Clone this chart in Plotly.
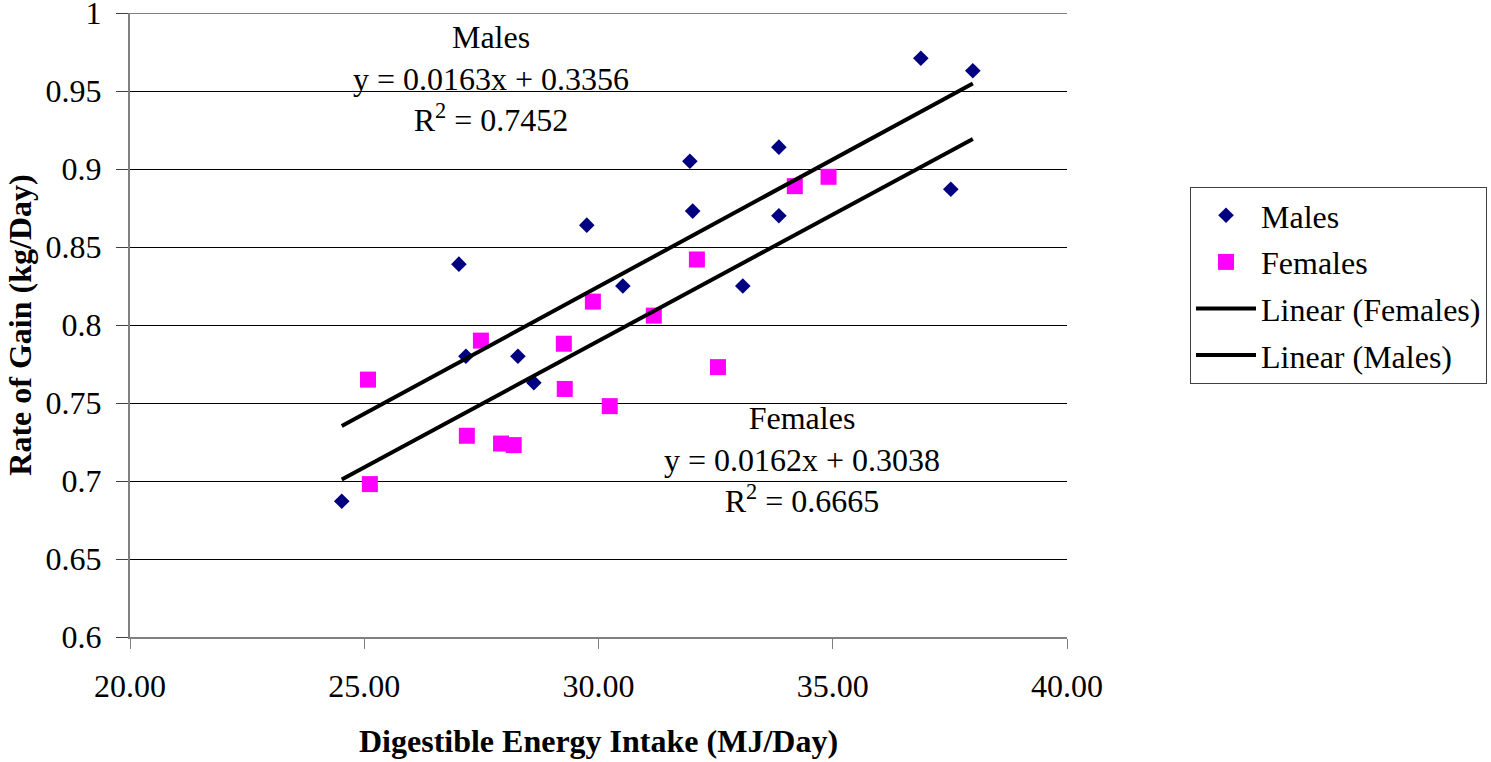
import plotly.graph_objects as go

# Digestible energy intake (MJ/day) and rate of gain (kg/day)
males_x = [24.52, 27.02, 27.17, 28.28, 28.62, 29.75, 30.52, 31.95, 32.01, 33.08,
           33.85, 33.85, 36.88, 37.52, 37.99]
males_y = [0.687, 0.839, 0.780, 0.780, 0.763, 0.864, 0.825, 0.905, 0.873, 0.825,
           0.914, 0.870, 0.971, 0.887, 0.963]

females_x = [25.08, 25.12, 27.19, 27.49, 27.92, 28.19, 29.26, 29.28, 29.88, 30.24,
             31.18, 32.10, 32.55, 34.19, 34.91]
females_y = [0.765, 0.698, 0.729, 0.790, 0.724, 0.723, 0.788, 0.759, 0.815, 0.748,
             0.806, 0.842, 0.773, 0.889, 0.895]

# Fitted regression coefficients (slope, intercept, R^2)
males_fit = (0.0163, 0.3356, 0.7452)
females_fit = (0.0162, 0.3038, 0.6665)

x_ticks = [20, 25, 30, 35, 40]
y_ticks = [0.6, 0.65, 0.7, 0.75, 0.8, 0.85, 0.9, 0.95, 1.0]
y_tick_text = ["0.6", "0.65", "0.7", "0.75", "0.8", "0.85", "0.9", "0.95", "1"]

FONT = "Liberation Serif"
FS = 32

# trend lines span the range of the data
x_lo = min(males_x + females_x)
x_hi = max(males_x + females_x)
line_x = [x_lo, x_hi]
males_line = [males_fit[0] * v + males_fit[1] for v in line_x]
females_line = [females_fit[0] * v + females_fit[1] for v in line_x]

fig = go.Figure()
fig.add_trace(go.Scatter(x=males_x, y=males_y, mode="markers", name="Males",
                         legendgroup="m",
                         marker=dict(symbol="diamond", size=12, color="#000080",
                                     line=dict(width=0))))
fig.add_trace(go.Scatter(x=females_x, y=females_y, mode="markers", name="Females",
                         legendgroup="f",
                         marker=dict(symbol="square", size=16, color="#FF00FF",
                                     line=dict(width=0))))
fig.add_trace(go.Scatter(x=line_x, y=females_line, mode="lines", name="Linear (Females)",
                         legendgroup="lf",
                         line=dict(color="black", width=4)))
fig.add_trace(go.Scatter(x=line_x, y=males_line, mode="lines", name="Linear (Males)",
                         legendgroup="lm",
                         line=dict(color="black", width=4)))


def eq_text(label, fit):
    return (f"{label}<br>y = {fit[0]:.4f}x + {fit[1]:.4f}<br>"
            f"R<sup>2</sup> = {fit[2]:.4f}")


fig.add_annotation(x=27.70, y=0.9579, xref="x", yref="y", showarrow=False,
                   text=eq_text("Males", males_fit), align="center",
                   font=dict(family=FONT, size=FS, color="black"),
                   yanchor="middle", xanchor="center")
fig.add_annotation(x=34.34, y=0.7137, xref="x", yref="y", showarrow=False,
                   text=eq_text("Females", females_fit), align="center",
                   font=dict(family=FONT, size=FS, color="black"),
                   yanchor="middle", xanchor="center")

# top border of the plot area
fig.add_shape(type="line", xref="paper", yref="y", x0=0, x1=1, y0=1, y1=1,
              line=dict(color="#808080", width=2))

fig.update_layout(
    width=1491, height=762,
    margin=dict(l=130, r=424, t=13, b=125, autoexpand=False),
    paper_bgcolor="white", plot_bgcolor="white",
    font=dict(family=FONT, size=FS, color="black"),
    showlegend=True,
    legend=dict(xref="container", yref="container",
                x=1190 / 1491, y=1 - 187 / 762, xanchor="left", yanchor="top",
                bordercolor="#404040", borderwidth=1, bgcolor="white",
                font=dict(family=FONT, size=FS, color="black"),
                tracegroupgap=2, itemwidth=60),
    xaxis=dict(range=[20, 40], tickvals=x_ticks, tickformat=".2f",
               automargin=False,
               showgrid=False, zeroline=False,
               showline=True, linecolor="#808080", linewidth=2,
               ticks="outside", ticklen=10, tickwidth=1, tickcolor="#808080",
               ticklabelstandoff=10,
               tickfont=dict(family=FONT, size=FS),
               title=dict(text="<b>Digestible Energy Intake (MJ/Day)</b>",
                          font=dict(family=FONT, size=FS), standoff=26)),
    yaxis=dict(range=[0.6, 1.0], tickvals=y_ticks, ticktext=y_tick_text,
               automargin=False, ticklabeloverflow="allow",
               showgrid=True, gridcolor="black", gridwidth=1, zeroline=False,
               showline=True, linecolor="#808080", linewidth=2,
               ticks="outside", ticklen=12, tickwidth=1, tickcolor="#404040",
               ticklabelstandoff=8,
               tickfont=dict(family=FONT, size=FS),
               title=dict(text="<b>Rate of Gain (kg/Day)</b>",
                          font=dict(family=FONT, size=FS), standoff=4)),
)

fig.write_html("out.html")
